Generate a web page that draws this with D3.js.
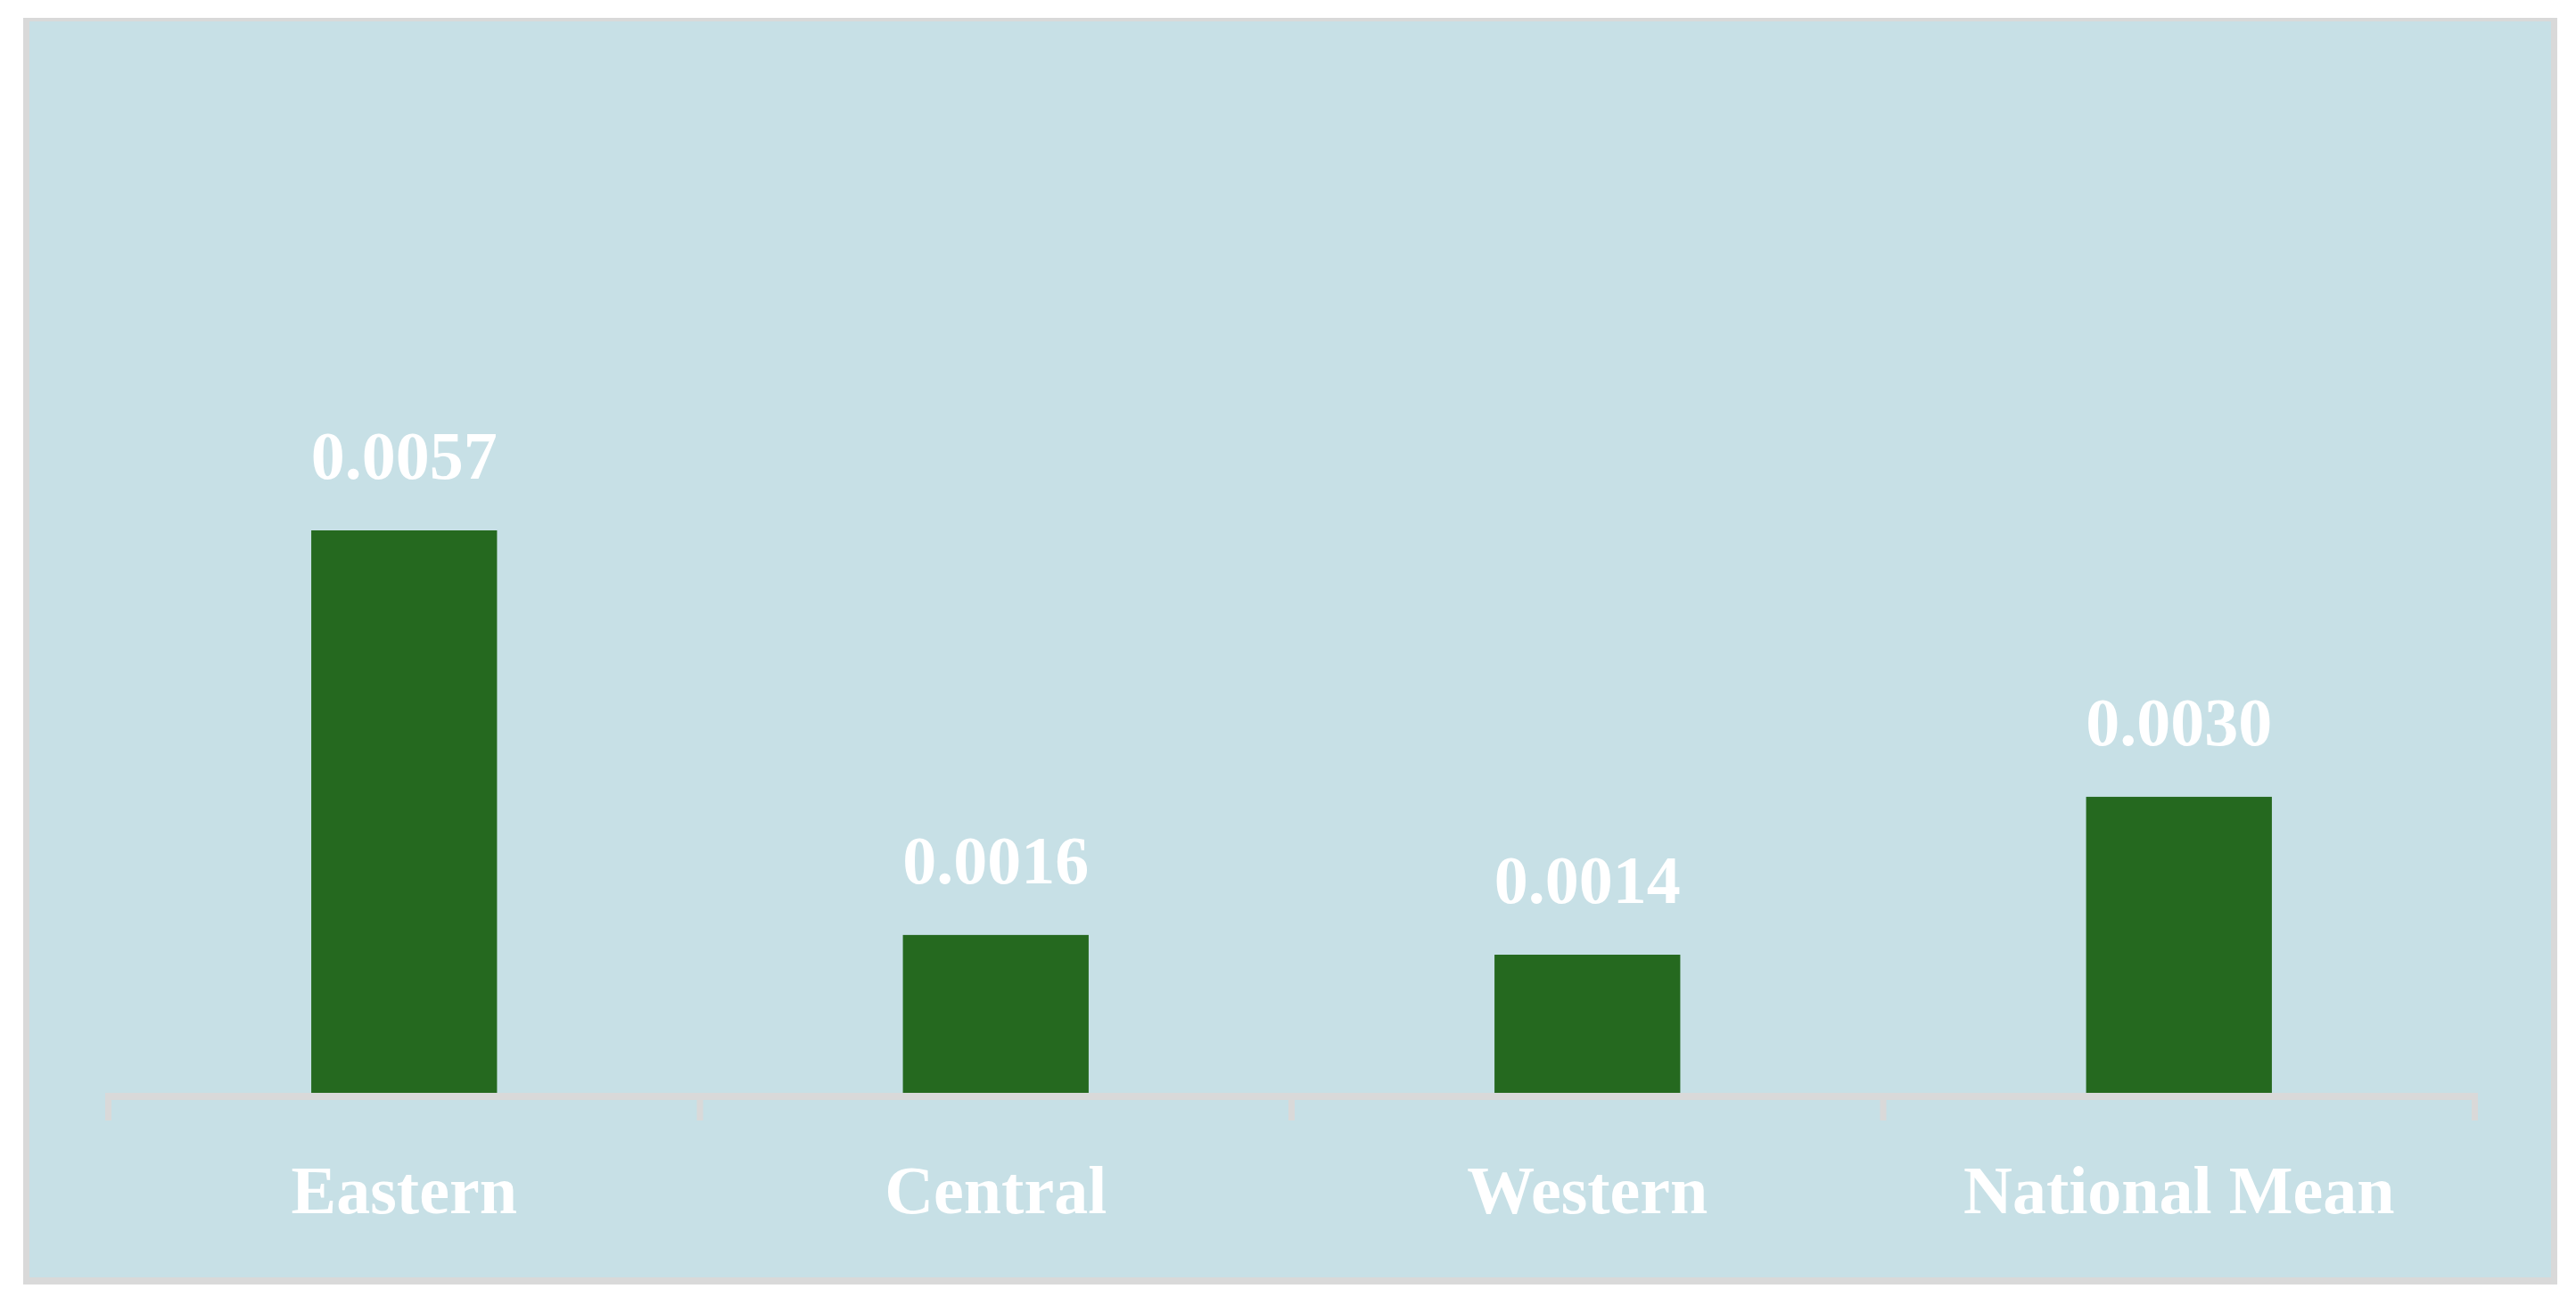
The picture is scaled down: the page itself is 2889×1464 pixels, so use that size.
<!DOCTYPE html>
<html><head><meta charset="utf-8">
<script src="https://cdn.jsdelivr.net/npm/d3@7"></script>
<style>html,body{margin:0;padding:0;background:#fff;}</style>
</head><body>
<script>
const categories = ["Eastern", "Central", "Western", "National Mean"];
const values = [0.0057, 0.0016, 0.0014, 0.0030];
const valueLabels = ["0.0057", "0.0016", "0.0014", "0.0030"];

const W = 2889, H = 1464;
const svg = d3.select("body").append("svg").attr("width", W).attr("height", H);

// frame
svg.append("rect").attr("x", 26).attr("y", 20).attr("width", 2842).attr("height", 1421).attr("fill", "#d9d9d9");
svg.append("rect").attr("x", 33).attr("y", 24).attr("width", 2828).attr("height", 1409).attr("fill", "#c7e0e6");

const x = d3.scaleBand().domain(categories).range([121.5, 2775.5]).paddingInner(0.686).paddingOuter(0.343);
const y = d3.scaleLinear().domain([0, 0.01]).range([1226, 119]);

const font = "'Liberation Serif', 'Times New Roman', serif";

// bars
svg.selectAll("rect.bar").data(values).enter().append("rect")
  .attr("class", "bar")
  .attr("x", (d, i) => x(categories[i]))
  .attr("width", x.bandwidth())
  .attr("y", d => y(d))
  .attr("height", d => y(0) - y(d))
  .attr("fill", "#25691f");

// axis
const axisG = svg.append("g").attr("transform", `translate(0,${y(0) + 4})`);
const step = x.step();
const r0 = x.range()[0], r1 = x.range()[1];
axisG.append("line").attr("x1", r0).attr("x2", r1).attr("y1", 0).attr("y2", 0)
  .attr("stroke", "#d9d9d9").attr("stroke-width", 8);
const tickPos = d3.range(categories.length + 1).map(i => r0 + i * (r1 - r0) / categories.length);
axisG.selectAll("line.tick").data(tickPos).enter().append("line")
  .attr("class", "tick")
  .attr("x1", d => d).attr("x2", d => d).attr("y1", -4).attr("y2", 27)
  .attr("stroke", "#d9d9d9").attr("stroke-width", 7);

// category labels
svg.selectAll("text.cat").data(categories).enter().append("text")
  .attr("class", "cat")
  .attr("x", d => x(d) + x.bandwidth() / 2)
  .attr("y", 1361)
  .attr("text-anchor", "middle")
  .attr("font-family", font).attr("font-weight", "bold").attr("font-size", 76)
  .attr("fill", "#ffffff")
  .text(d => d);

// value labels
svg.selectAll("text.val").data(values).enter().append("text")
  .attr("class", "val")
  .attr("x", (d, i) => x(categories[i]) + x.bandwidth() / 2)
  .attr("y", d => y(d) - 58)
  .attr("text-anchor", "middle")
  .attr("font-family", font).attr("font-weight", "bold").attr("font-size", 76)
  .attr("fill", "#ffffff")
  .text((d, i) => valueLabels[i]);
</script>
</body></html>
